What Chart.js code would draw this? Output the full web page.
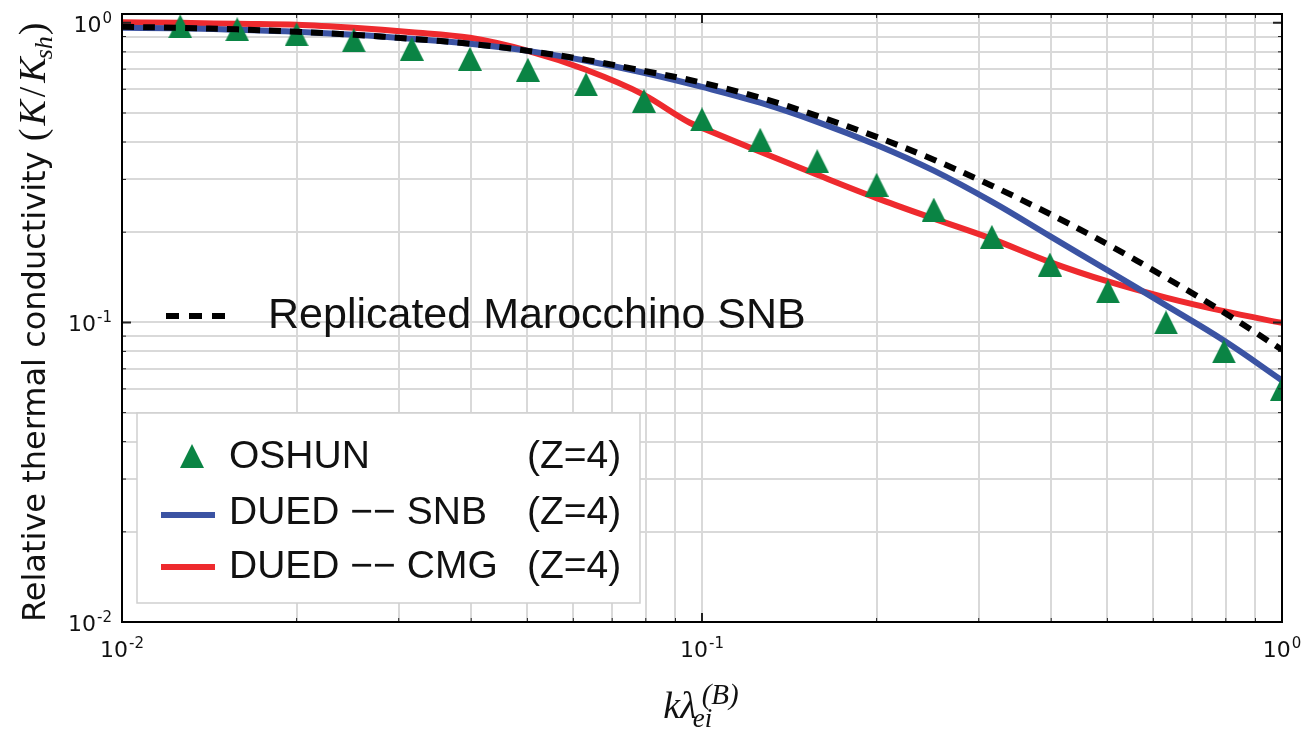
<!DOCTYPE html>
<html>
<head>
<meta charset="utf-8">
<title>Relative thermal conductivity</title>
<script src="https://cdn.jsdelivr.net/npm/chart.js@4.4.0/dist/chart.umd.min.js"></script>
<style>
    html, body { margin: 0; padding: 0; background: #fff; }
    #wrap { width: 1303px; height: 731px; position: relative; }
</style>
</head>
<body>
<div id="wrap"><canvas id="kappaChart"></canvas></div>
<script>
// k * lambda_ei^(B) positions shared by the SNB curves
const kLambda = [0.01, 0.0126, 0.0158, 0.02, 0.0251, 0.0316, 0.0398, 0.0501, 0.0631, 0.0794, 0.1,
    0.126, 0.158, 0.2, 0.251, 0.316, 0.398, 0.501, 0.631, 0.794, 1.0];

// Replicated Marocchino SNB (black dashed)
const marocchinoSnb = [0.970, 0.962, 0.951, 0.933, 0.912, 0.884, 0.851, 0.806, 0.752, 0.691, 0.631,
    0.562, 0.489, 0.416, 0.349, 0.286, 0.230, 0.182, 0.141, 0.108, 0.081];

// DUED -- SNB (blue)
const duedSnb = [0.962, 0.959, 0.948, 0.933, 0.912, 0.884, 0.851, 0.806, 0.747, 0.681, 0.611,
    0.541, 0.467, 0.391, 0.321, 0.253, 0.194, 0.149, 0.114, 0.087, 0.064];

// DUED -- CMG (red), one extra point at the kink just below 0.1
const cmgLambda = [0.01, 0.0126, 0.0158, 0.02, 0.0251, 0.0316, 0.0398, 0.0501, 0.0631, 0.0794, 0.0953, 0.1,
    0.126, 0.158, 0.2, 0.251, 0.316, 0.398, 0.501, 0.631, 0.794, 1.0];
const duedCmg = [1.004, 1.0, 0.992, 0.985, 0.962, 0.930, 0.891, 0.806, 0.697, 0.575, 0.464, 0.446,
    0.371, 0.311, 0.260, 0.222, 0.190, 0.159, 0.137, 0.121, 0.109, 0.0996];

// OSHUN (green triangles)
const oshunLambda = [0.0126, 0.0158, 0.02, 0.0251, 0.0316, 0.0398, 0.0501, 0.0631, 0.0794, 0.1,
    0.126, 0.158, 0.2, 0.251, 0.316, 0.398, 0.501, 0.631, 0.794, 1.0];
const oshunK = [0.973, 0.951, 0.915, 0.874, 0.819, 0.758, 0.697, 0.623, 0.549, 0.476,
    0.407, 0.345, 0.288, 0.238, 0.193, 0.156, 0.127, 0.100, 0.080, 0.060];

// grid / tick positions (same on both log axes)
const gridValues = [0.01, 0.02, 0.03, 0.04, 0.05, 0.06, 0.07, 0.08, 0.09,
    0.1, 0.2, 0.3, 0.4, 0.5, 0.6, 0.7, 0.8, 0.9, 1];
const decadeValues = [0.01, 0.1, 1];
const decadeExponents = ['-2', '-1', '0'];

const RED = '#ee2a2e';
const BLUE = '#3b53a3';
const GREEN = '#0a8444';

function isDecade(v) {
    return decadeValues.some(d => Math.abs(d - v) < d * 1e-6);
}

// matplotlib style '^' marker
function makeTriangle(size) {
    const c = document.createElement('canvas');
    c.width = size;
    c.height = size;
    const g = c.getContext('2d');
    g.fillStyle = GREEN;
    g.beginPath();
    g.moveTo(size / 2, 0);
    g.lineTo(size, size);
    g.lineTo(0, size);
    g.closePath();
    g.fill();
    return c;
}
const triangle = makeTriangle(24);

function pairs(xs, ys) {
    return xs.map((x, i) => ({x: x, y: ys[i]}));
}

function drawParts(ctx, parts, x, y) {
    parts.forEach(p => {
        ctx.font = p.font;
        ctx.fillText(p.text, x + (p.dx || 0), y + (p.dy || 0));
        if (!p.stay) x += ctx.measureText(p.text).width + (p.gap || 0);
    });
}

// "10" with a raised exponent
const TICK_FONT = '22px "DejaVu Sans", sans-serif';
const EXP_FONT = '15px "DejaVu Sans", sans-serif';
function powerWidth(ctx, exp) {
    ctx.font = TICK_FONT;
    const w1 = ctx.measureText('10').width;
    ctx.font = EXP_FONT;
    return w1 + 1 + ctx.measureText(exp).width;
}
function drawPower(ctx, exp, x, y) {
    drawParts(ctx, [
        {text: '10', font: TICK_FONT, gap: 1},
        {text: exp, font: EXP_FONT, dy: -9}
    ], x, y);
}

const framePlugin = {
    id: 'frame',
    afterDatasetsDraw(chart) {
        const {ctx, chartArea: a, scales} = chart;
        ctx.save();
        ctx.strokeStyle = '#222';
        gridValues.forEach(v => {
            const major = isDecade(v);
            const len = major ? 9 : 4;
            ctx.lineWidth = major ? 2 : 1;
            const px = scales.x.getPixelForValue(v);
            ctx.beginPath();
            ctx.moveTo(px, a.bottom); ctx.lineTo(px, a.bottom - len);
            ctx.moveTo(px, a.top); ctx.lineTo(px, a.top + len);
            ctx.stroke();
            const py = scales.y.getPixelForValue(v);
            ctx.beginPath();
            ctx.moveTo(a.left, py); ctx.lineTo(a.left + len, py);
            ctx.moveTo(a.right, py); ctx.lineTo(a.right - len, py);
            ctx.stroke();
        });
        ctx.strokeStyle = '#000';
        ctx.lineWidth = 2;
        ctx.strokeRect(a.left, a.top, a.right - a.left, a.bottom - a.top);
        ctx.restore();
    },
    afterDraw(chart) {
        const {ctx, chartArea: a, scales} = chart;
        ctx.save();
        ctx.fillStyle = '#111';
        ctx.textAlign = 'left';
        ctx.textBaseline = 'alphabetic';

        // decade tick labels
        decadeValues.forEach((d, i) => {
            const exp = decadeExponents[i];
            const w = powerWidth(ctx, exp);
            drawPower(ctx, exp, scales.x.getPixelForValue(d) - w / 2, a.bottom + 35);
            drawPower(ctx, exp, a.left - 10 - w, scales.y.getPixelForValue(d) + 9);
        });

        // x axis title
        const serif = '"Liberation Serif", "Times New Roman", serif';
        ctx.font = 'italic 38px ' + serif;
        const mainW = ctx.measureText('k\u03BB').width;
        const x0 = (a.left + a.right) / 2 - (mainW + 44) / 2;
        drawParts(ctx, [
            {text: 'k\u03BB', font: 'italic 38px ' + serif},
            {text: 'ei', font: 'italic 27px ' + serif, dx: -4, dy: 9, stay: true},
            {text: '(B)', font: 'italic 29px ' + serif, dx: 5, dy: -14}
        ], x0, 718);

        // y axis title
        ctx.save();
        ctx.translate(45, a.bottom);
        ctx.rotate(-Math.PI / 2);
        drawParts(ctx, [
            {text: 'Relative thermal conductivity ', font: '32px "DejaVu Sans", sans-serif'},
            {text: '(', font: '38px ' + serif, gap: 3},
            {text: 'K', font: 'italic 38px ' + serif, gap: 3},
            {text: '/', font: '38px ' + serif, gap: 4},
            {text: 'K', font: 'italic 38px ' + serif, gap: -2},
            {text: 'sh', font: 'italic 26px ' + serif, dy: 7, gap: 1},
            {text: ')', font: '38px ' + serif}
        ], 0, 0);
        ctx.restore();

        // legend: replicated SNB (no frame)
        ctx.strokeStyle = '#000';
        ctx.lineWidth = 6;
        ctx.setLineDash([13, 10]);
        ctx.beginPath();
        ctx.moveTo(166, 316); ctx.lineTo(228, 316);
        ctx.stroke();
        ctx.setLineDash([]);
        ctx.textBaseline = 'middle';
        ctx.font = '43px "Liberation Sans", Arial, sans-serif';
        ctx.fillText('Replicated Marocchino SNB', 268, 316);

        // legend: boxed entries
        ctx.fillStyle = '#fff';
        ctx.fillRect(137, 413, 503, 190);
        ctx.strokeStyle = '#cfcfcf';
        ctx.lineWidth = 1.5;
        ctx.strokeRect(137, 413, 503, 190);

        ctx.drawImage(triangle, 192 - 12, 456 - 12);
        ctx.lineWidth = 6;
        ctx.strokeStyle = BLUE;
        ctx.beginPath(); ctx.moveTo(161, 515); ctx.lineTo(215, 515); ctx.stroke();
        ctx.strokeStyle = RED;
        ctx.beginPath(); ctx.moveTo(161, 567); ctx.lineTo(215, 567); ctx.stroke();

        ctx.fillStyle = '#111';
        ctx.font = '39px "Liberation Sans", Arial, sans-serif';
        const rows = [['OSHUN', 457], ['DUED \u2212\u2212 SNB', 513], ['DUED \u2212\u2212 CMG', 567]];
        rows.forEach(r => {
            ctx.fillText(r[0], 229, r[1]);
            ctx.fillText('(Z=4)', 527, r[1]);
        });
        ctx.restore();
    }
};

new Chart(document.getElementById('kappaChart'), {
    type: 'line',
    data: {
        datasets: [{
            label: 'Replicated Marocchino SNB',
            data: pairs(kLambda, marocchinoSnb),
            borderColor: '#000',
            borderWidth: 6,
            borderDash: [12, 9],
            borderCapStyle: 'butt',
            pointRadius: 0,
            tension: 0.4,
            clip: 0,
            order: 0
        }, {
            label: 'OSHUN (Z=4)',
            data: pairs(oshunLambda, oshunK),
            showLine: false,
            pointStyle: triangle,
            pointRadius: 12,
            clip: 0,
            order: 1
        }, {
            label: 'DUED -- SNB (Z=4)',
            data: pairs(kLambda, duedSnb),
            borderColor: BLUE,
            borderWidth: 6,
            pointRadius: 0,
            tension: 0.4,
            clip: 0,
            order: 2
        }, {
            label: 'DUED -- CMG (Z=4)',
            data: pairs(cmgLambda, duedCmg),
            borderColor: RED,
            borderWidth: 6,
            pointRadius: 0,
            cubicInterpolationMode: 'monotone',
            clip: 0,
            order: 3
        }]
    },
    options: {
        responsive: true,
        maintainAspectRatio: false,
        devicePixelRatio: 1,
        animation: false,
        events: [],
        layout: { padding: { top: 14, right: 21, left: 0, bottom: 0 } },
        plugins: {
            legend: { display: false },
            tooltip: { enabled: false },
            title: { display: false }
        },
        scales: {
            x: {
                type: 'logarithmic',
                min: 0.01,
                max: 1,
                border: { display: false },
                grid: { color: '#d9d9d9', lineWidth: 2, drawTicks: false },
                ticks: { display: false },
                afterBuildTicks: s => { s.ticks = gridValues.map(v => ({value: v})); },
                afterFit: s => { s.height = 109; }
            },
            y: {
                type: 'logarithmic',
                min: 0.01,
                max: 1.07,
                border: { display: false },
                grid: { color: '#d9d9d9', lineWidth: 2, drawTicks: false },
                ticks: { display: false },
                afterBuildTicks: s => { s.ticks = gridValues.map(v => ({value: v})); },
                afterFit: s => { s.width = 122; }
            }
        }
    },
    plugins: [framePlugin]
});
</script>
</body>
</html>
